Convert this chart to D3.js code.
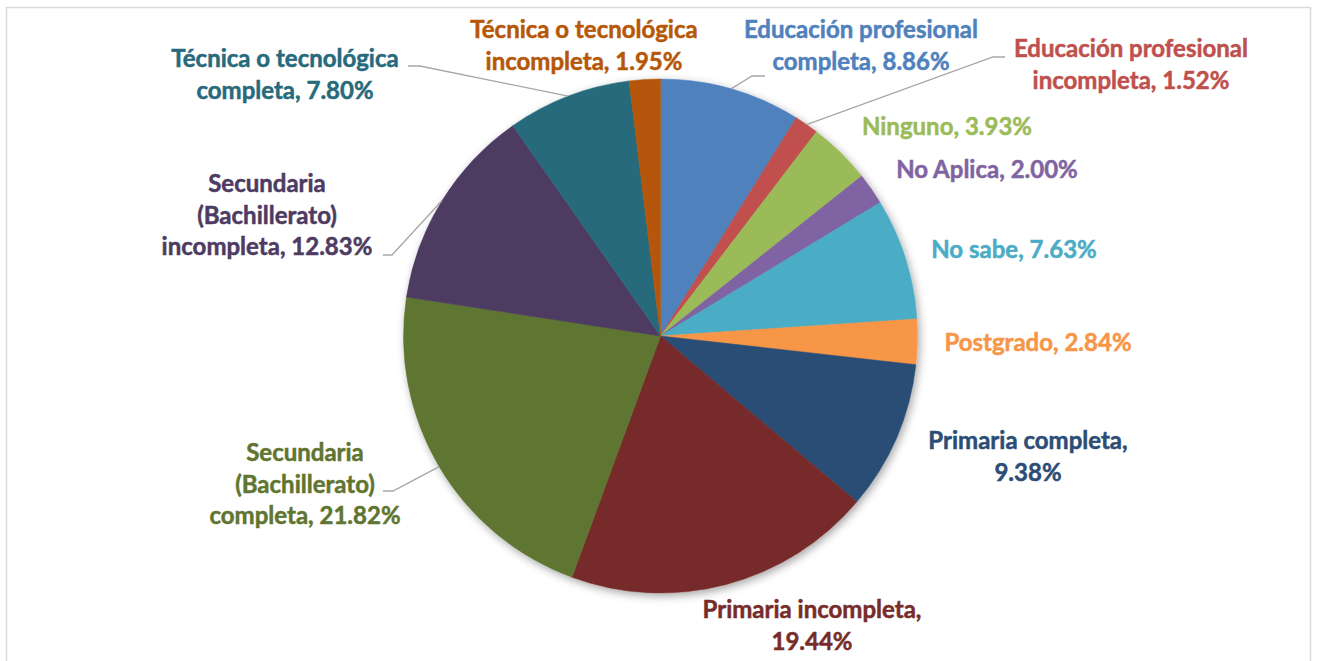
<!DOCTYPE html>
<html>
<head>
<meta charset="utf-8">
<script src="https://cdn.jsdelivr.net/npm/d3@7"></script>
<style>
  body { margin: 0; background: #fff; }
  text { font-family: Lato, "Open Sans", sans-serif; font-weight: bold; }
</style>
</head>
<body>
<svg id="chart" width="1317" height="661"></svg>
<script>
/* data, clockwise from 12 o'clock */
var categories = [
	["Educación profesional", "completa, 8.86%"],
	["Educación profesional", "incompleta, 1.52%"],
	["Ninguno, 3.93%"],
	["No Aplica, 2.00%"],
	["No sabe, 7.63%"],
	["Postgrado, 2.84%"],
	["Primaria completa,", "9.38%"],
	["Primaria incompleta,", "19.44%"],
	["Secundaria", "(Bachillerato)", "completa, 21.82%"],
	["Secundaria", "(Bachillerato)", "incompleta, 12.83%"],
	["Técnica o tecnológica", "completa, 7.80%"],
	["Técnica o tecnológica", "incompleta, 1.95%"]
];
var values = [8.86, 1.52, 3.93, 2.00, 7.63, 2.84, 9.38, 19.44, 21.82, 12.83, 7.80, 1.95];
var colors = ["#4F81BD", "#C0504D", "#9BBB59", "#8064A2", "#4BACC6", "#F79646",
	"#2C4D75", "#772C2A", "#5F7530", "#4D3B62", "#276A7C", "#B65708"];

/* label placement: centre x, first baseline, and optional leader elbow */
var labelLayout = [
	{x: 861, y: 38, elbow: [[765, 76], [752, 76]]},
	{x: 1131, y: 57, elbow: [[1005, 57], [993, 57]]},
	{x: 947, y: 135},
	{x: 987, y: 178},
	{x: 1014, y: 258},
	{x: 1038, y: 351},
	{x: 1028, y: 449},
	{x: 812, y: 618},
	{x: 305, y: 461, elbow: [[383, 491], [393, 491]]},
	{x: 267, y: 192, elbow: [[383, 255], [392, 255]]},
	{x: 285, y: 67, elbow: [[408, 66], [420, 66]]},
	{x: 584, y: 38}
];

var width = 1317, height = 661,
	cx = 660.5, cy = 336, radius = 257, lineH = 31.5;

var svg = d3.select("#chart");

/*frame*/
svg.append("rect")
	.attr("x", 6.5).attr("y", 7.5)
	.attr("width", 1304).attr("height", 700)
	.attr("fill", "#fff")
	.attr("stroke", "#d9d9d9")
	.attr("stroke-width", 1.5);

var defs = svg.append("defs");
defs.append("filter")
	.attr("id", "shadow")
	.attr("x", "-20%").attr("y", "-20%")
	.attr("width", "140%").attr("height", "140%")
	.append("feDropShadow")
	.attr("dx", 2).attr("dy", 3)
	.attr("stdDeviation", 4)
	.attr("flood-color", "#000")
	.attr("flood-opacity", 0.35);

var pie = d3.pie().sort(null).value(function(d) { return d; });
var arcs = pie(values);

var arc = d3.arc().innerRadius(0).outerRadius(radius);
var edge = d3.arc().innerRadius(radius).outerRadius(radius);

var g = svg.append("g")
	.attr("transform", "translate(" + cx + "," + cy + ")");

g.append("g")
	.attr("filter", "url(#shadow)")
	.selectAll("path")
	.data(arcs)
	.enter().append("path")
	.attr("d", arc)
	.attr("fill", function(d, i) { return colors[i]; })
	.attr("stroke", function(d, i) { return colors[i]; })
	.attr("stroke-width", 0.5);

/*leader lines*/
arcs.forEach(function(d, i) {
	var lay = labelLayout[i];
	if (!lay.elbow) return;
	var p = edge.centroid(d);
	var pts = lay.elbow.concat([[cx + p[0], cy + p[1]]]);
	svg.append("path")
		.attr("d", d3.line()(pts))
		.attr("fill", "none")
		.attr("stroke", "#a6a6a6")
		.attr("stroke-width", 1.3);
});

/*labels*/
categories.forEach(function(lines, i) {
	var lay = labelLayout[i];
	var t = svg.append("text")
		.attr("text-anchor", "middle")
		.style("font-size", "24px")
		.attr("fill", colors[i])
		.attr("stroke", colors[i])
		.attr("stroke-width", 0.5);
	lines.forEach(function(s, j) {
		t.append("tspan")
			.attr("x", lay.x)
			.attr("y", lay.y + j * lineH)
			.text(s);
	});
});
</script>
</body>
</html>
